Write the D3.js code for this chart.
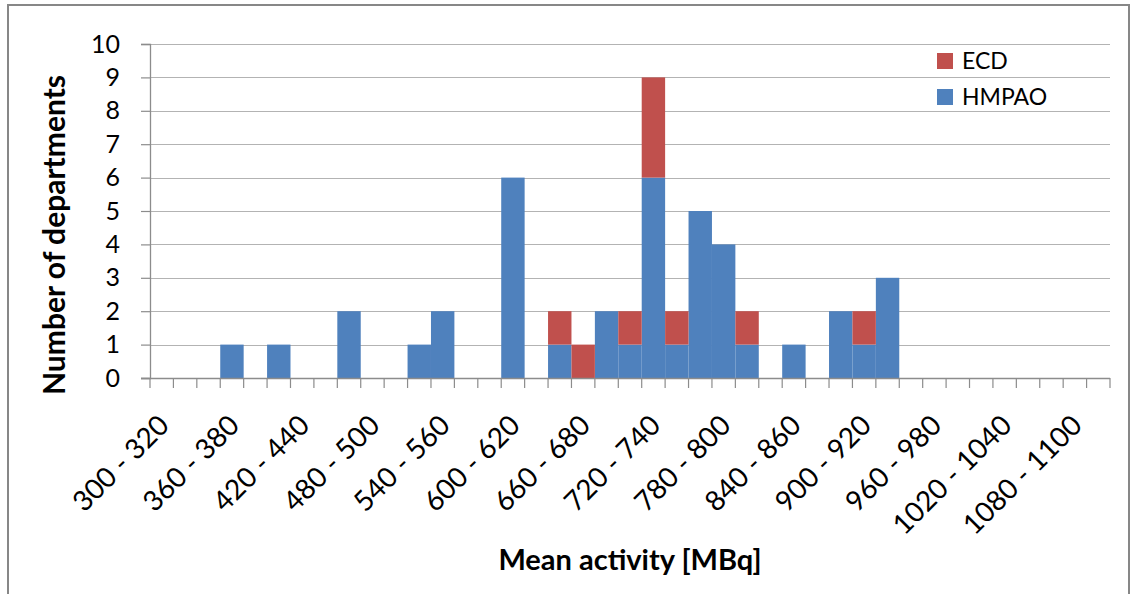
<!DOCTYPE html>
<html><head><meta charset="utf-8">
<script src="https://cdn.jsdelivr.net/npm/d3@7"></script>
<style>body{margin:0;background:#fff}svg{display:block}text{font-family:Lato,"Open Sans",sans-serif;fill:#000}</style>
</head><body>
<svg id="c" width="1132" height="594"></svg>
<script>
const categories = ["300 - 320","320 - 340","340 - 360","360 - 380","380 - 400","400 - 420","420 - 440","440 - 460","460 - 480","480 - 500",
"500 - 520","520 - 540","540 - 560","560 - 580","580 - 600","600 - 620","620 - 640","640 - 660","660 - 680","680 - 700",
"700 - 720","720 - 740","740 - 760","760 - 780","780 - 800","800 - 820","820 - 840","840 - 860","860 - 880","880 - 900",
"900 - 920","920 - 940","940 - 960","960 - 980","980 - 1000","1000 - 1020","1020 - 1040","1040 - 1060","1060 - 1080","1080 - 1100","1100 - 1120"];
const hmpao = [0,0,0,1,0,1,0,0,2,0,0,1,2,0,0,6,0,1,0,2,1,6,1,5,4,1,0,1,0,2,1,3,0,0,0,0,0,0,0,0,0];
const ecd   = [0,0,0,0,0,0,0,0,0,0,0,0,0,0,0,0,0,1,1,0,1,3,1,0,0,1,0,0,0,0,1,0,0,0,0,0,0,0,0,0,0];
const shownLabels = ["300 - 320","360 - 380","420 - 440","480 - 500","540 - 560","600 - 620","660 - 680","720 - 740","780 - 800","840 - 860","900 - 920","960 - 980","1020 - 1040","1080 - 1100"];
const yTicks = [0,1,2,3,4,5,6,7,8,9,10];
const seriesNames = ["HMPAO","ECD"];
const colors = {HMPAO:"#4F81BD", ECD:"#C0504D"};

const svg = d3.select("#c");
// outer frame
svg.append("rect").attr("x",8).attr("y",5).attr("width",1121).attr("height",600)
  .attr("fill","none").attr("stroke","#878787").attr("stroke-width",2);

const L=150, R=1110, T=44, B=378;
const x = d3.scaleBand().domain(categories).range([L,R]).padding(0);
const y = d3.scaleLinear().domain([0,10]).range([B,T]);

// gridlines
svg.append("g").selectAll("line").data(yTicks.filter(d=>d>0)).join("line")
  .attr("x1",L).attr("x2",R).attr("y1",d=>Math.round(y(d))+0.5).attr("y2",d=>Math.round(y(d))+0.5)
  .attr("stroke","#b3b3b3").attr("stroke-width",1.2);

// stacked bars
const rows = categories.map((c,i)=>({cat:c, HMPAO:hmpao[i], ECD:ecd[i]}));
const stack = d3.stack().keys(seriesNames)(rows);
svg.append("g").selectAll("g").data(stack).join("g").attr("fill",d=>colors[d.key])
  .selectAll("rect").data(d=>d).join("rect")
  .attr("x",d=>x(d.data.cat)).attr("width",x.bandwidth())
  .attr("y",d=>y(d[1])).attr("height",d=>y(d[0])-y(d[1]));

// y axis
const ya = d3.axisLeft(y).tickValues(yTicks).tickSize(9).tickPadding(21);
const gy = svg.append("g").attr("transform",`translate(${L},0)`).call(ya);
gy.select(".domain").attr("stroke","#8c8c8c").attr("stroke-width",1.3);
gy.selectAll(".tick line").attr("stroke","#8c8c8c").attr("stroke-width",1.2);
gy.selectAll(".tick text").style("font-family","Lato").style("font-size","25px").attr("fill","#000");

// x axis baseline and ticks at bin boundaries
const gx = svg.append("g");
gx.append("line").attr("x1",L-9).attr("x2",R).attr("y1",B+0.5).attr("y2",B+0.5).attr("stroke","#8c8c8c").attr("stroke-width",1.3);
const bounds = categories.map(c=>x(c)).concat([x(categories[categories.length-1])+x.bandwidth()]);
gx.selectAll("line.t").data(bounds).join("line").attr("class","t")
  .attr("x1",d=>d).attr("x2",d=>d).attr("y1",B).attr("y2",B+10)
  .attr("stroke","#8c8c8c").attr("stroke-width",1.2);
gx.selectAll("text").data(shownLabels).join("text")
  .attr("transform",d=>`translate(${x(d)+x.bandwidth()/2+2},${B+42}) rotate(-45)`)
  .attr("text-anchor","end").attr("dy","0.35em")
  .style("font-size","28px").text(d=>d);

// axis titles
svg.append("text").attr("transform",`translate(65,235) rotate(-90)`)
  .attr("text-anchor","middle").style("font-size","30px").style("font-weight","bold")
  .text("Number of departments");
svg.append("text").attr("x",630).attr("y",570).attr("text-anchor","middle")
  .style("font-size","29px").style("font-weight","bold").text("Mean activity [MBq]");

// legend
const legendItems = ["ECD","HMPAO"];
const lg = svg.append("g").selectAll("g").data(legendItems).join("g")
  .attr("transform",(d,i)=>`translate(937,${53+i*36})`);
lg.append("rect").attr("width",16).attr("height",16).attr("fill",d=>colors[d]);
lg.append("text").attr("x",25).attr("y",8).attr("dy","0.36em").style("font-size","23px").text(d=>d);
</script>
</body></html>
